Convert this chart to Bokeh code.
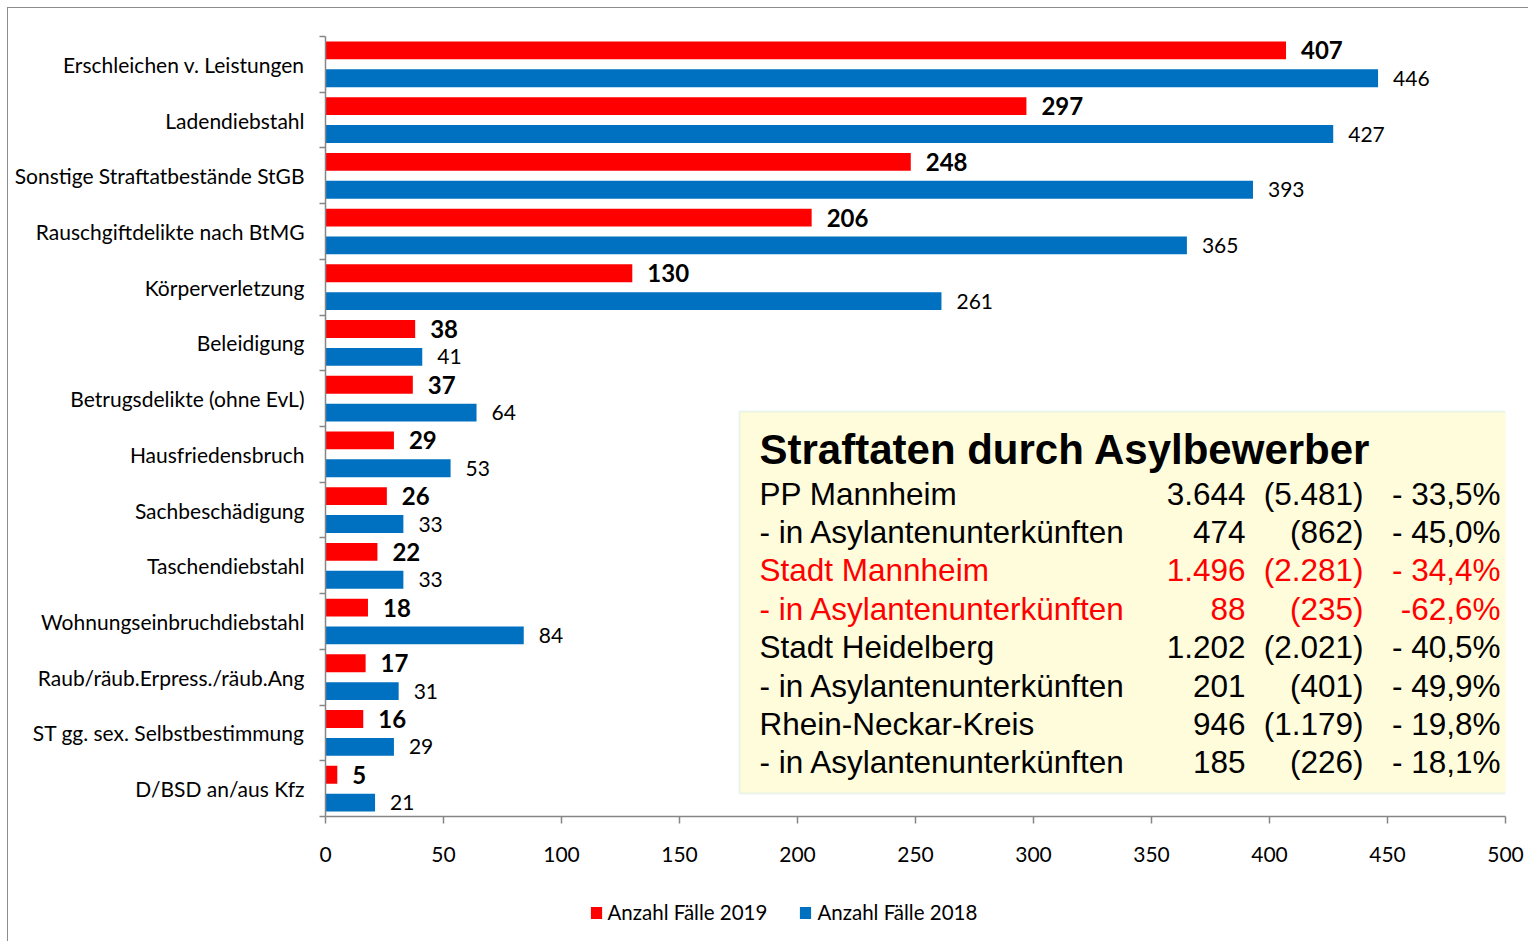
from bokeh.plotting import figure
from bokeh.layouts import column
from bokeh.models import (Range1d, FixedTicker, ColumnDataSource, Legend, LegendItem,
                          BoxAnnotation)
from bokeh.core.properties import value
from bokeh.embed import file_html
from bokeh.resources import INLINE

# ---------------- data ----------------
categories = ["Erschleichen v. Leistungen", "Ladendiebstahl", "Sonstige Straftatbestände StGB",
              "Rauschgiftdelikte nach BtMG", "Körperverletzung", "Beleidigung",
              "Betrugsdelikte (ohne EvL)", "Hausfriedensbruch", "Sachbeschädigung",
              "Taschendiebstahl", "Wohnungseinbruchdiebstahl", "Raub/räub.Erpress./räub.Ang",
              "ST gg. sex. Selbstbestimmung", "D/BSD an/aus Kfz"]
cases_2019 = [407, 297, 248, 206, 130, 38, 37, 29, 26, 22, 18, 17, 16, 5]
cases_2018 = [446, 427, 393, 365, 261, 41, 64, 53, 33, 33, 84, 31, 29, 21]
series_names = ["Anzahl Fälle 2019", "Anzahl Fälle 2018"]
x_ticks = [0, 50, 100, 150, 200, 250, 300, 350, 400, 450, 500]

box_title = "Straftaten durch Asylbewerber"
box_regions = ["PP Mannheim", "- in Asylantenunterkünften", "Stadt Mannheim",
               "- in Asylantenunterkünften", "Stadt Heidelberg", "- in Asylantenunterkünften",
               "Rhein-Neckar-Kreis", "- in Asylantenunterkünften"]
box_2019 = ["3.644", "474", "1.496", "88", "1.202", "201", "946", "185"]
box_2018 = ["(5.481)", "(862)", "(2.281)", "(235)", "(2.021)", "(401)", "(1.179)", "(226)"]
box_change = ["- 33,5%", "- 45,0%", "- 34,4%", "-62,6%", "- 40,5%", "- 49,9%", "- 19,8%", "- 18,1%"]
highlight_region = "Stadt Mannheim"

# ---------------- styles ----------------
RED = "#FF0000"
BLUE = "#0070C0"
AXIS = "#868686"
LABEL_FONT = "Lato"
ARIAL = "Liberation Sans"
COLORS = [RED, BLUE]

n = len(categories)
centers = [i + 0.5 for i in range(n)]

OFF = 8                      # page offset of the chart (margin + border)
W = 1520
H_MAIN, H_LEG = 880, 53
LEFT, RIGHT, TOP, BOTTOM = 317, 23, 28, 72
frame_w = W - LEFT - RIGHT
frame_h = H_MAIN - TOP - BOTTOM
XMAX = x_ticks[-1]


def px_x(page_x):
    # page pixel -> data x
    return (page_x - OFF - LEFT) * XMAX / frame_w


def px_y(page_y):
    # page pixel -> data y (0 at top)
    return (page_y - OFF - TOP) * n / frame_h


p = figure(width=W, height=H_MAIN, output_backend="svg", toolbar_location=None,
           x_range=Range1d(0, XMAX), y_range=Range1d(n, 0),
           min_border_left=LEFT, min_border_right=RIGHT,
           min_border_top=TOP, min_border_bottom=BOTTOM)
p.outline_line_color = None
p.xgrid.visible = False
p.ygrid.visible = False
p.background_fill_color = "white"
p.border_fill_color = "white"

src = ColumnDataSource(dict(
    cat=categories,
    y19=[c - 0.25 for c in centers],
    y18=[c + 0.25 for c in centers],
    v19=cases_2019,
    v18=cases_2018,
    t19=[str(v) for v in cases_2019],
    t18=[str(v) for v in cases_2018],
))

p.hbar(y="y19", right="v19", left=0, height=0.32, source=src,
       fill_color=RED, line_color=None)
p.hbar(y="y18", right="v18", left=0, height=0.32, source=src,
       fill_color=BLUE, line_color=None)

p.text(x="v19", y="y19", text="t19", source=src, x_offset=15,
       text_font=value(LABEL_FONT), text_font_size="24px", text_font_style="bold",
       text_align="left", text_baseline="middle", text_color="black")
p.text(x="v18", y="y18", text="t18", source=src, x_offset=15,
       text_font=value(LABEL_FONT), text_font_size="21px",
       text_align="left", text_baseline="middle", text_color="black")

# ---------------- axes ----------------
xa = p.xaxis[0]
xa.ticker = FixedTicker(ticks=x_ticks)
xa.axis_line_color = AXIS
xa.axis_line_width = 1.5
xa.major_tick_line_color = AXIS
xa.major_tick_line_width = 1.5
xa.major_tick_out = 7
xa.major_tick_in = 0
xa.minor_tick_line_color = None
xa.major_label_text_font = LABEL_FONT
xa.major_label_text_font_size = "21px"
xa.major_label_text_color = "black"
xa.major_label_standoff = 23

ya = p.yaxis[0]
ya.ticker = FixedTicker(ticks=centers, minor_ticks=list(range(n + 1)))
ya.major_label_overrides = {c: lab for c, lab in zip(centers, categories)}
ya.axis_line_color = AXIS
ya.axis_line_width = 1.5
ya.major_tick_line_color = None
ya.major_tick_out = 0
ya.major_tick_in = 0
ya.minor_tick_line_color = AXIS
ya.minor_tick_line_width = 1.5
ya.minor_tick_out = 6
ya.minor_tick_in = 0
ya.major_label_text_font = LABEL_FONT
ya.major_label_text_font_size = "21px"
ya.major_label_text_color = "black"
ya.major_label_standoff = 15

# ---------------- info box ----------------
box = BoxAnnotation(left=px_x(739), right=px_x(1526), top=px_y(411), bottom=px_y(793),
                    fill_color="#FFFCDC", fill_alpha=1.0,
                    line_color="#BEDFE4", line_width=2, level="underlay")
p.add_layout(box)

p.text(x=[px_x(759)], y=[px_y(449)], text=[box_title],
       text_font=value(ARIAL), text_font_size="42px", text_font_style="bold",
       text_align="left", text_baseline="middle", text_color="black")

colors = []
group = None
for reg in box_regions:
    if not reg.startswith("-"):
        group = reg
    colors.append(RED if group == highlight_region else "black")

row_y = [px_y(493) + i * 38.4 * n / frame_h for i in range(len(box_regions))]
bsrc = ColumnDataSource(dict(y=row_y, reg=box_regions, a=box_2019, b=box_2018,
                             c=box_change, col=colors))
for col_key, page_x, align in [("reg", 759, "left"), ("a", 1245, "right"),
                               ("b", 1363, "right"), ("c", 1500, "right")]:
    p.text(x=px_x(page_x), y="y", text=col_key, source=bsrc, text_color="col",
           text_font=value(ARIAL), text_font_size="31.5px",
           text_align=align, text_baseline="middle")

# ---------------- legend strip ----------------
# The column layout aligns this strip's frame with the main plot's frame.
# The series renderers here are hidden; only their legend swatches are shown.
q = figure(width=W, height=H_LEG, output_backend="svg", toolbar_location=None,
           x_range=Range1d(0, XMAX), y_range=Range1d(n, 0),
           min_border_left=0, min_border_right=0, min_border_top=0, min_border_bottom=0)
q.axis.visible = False
q.xgrid.visible = False
q.ygrid.visible = False
q.outline_line_color = None
q.background_fill_color = "white"
q.border_fill_color = "white"
items = []
for name, ycol, vcol, col in zip(series_names, ["y19", "y18"], ["v19", "v18"], COLORS):
    r = q.hbar(y=ycol, right=vcol, left=0, height=0.32, source=src,
               fill_color=col, line_color=None)
    r.visible = False
    items.append(LegendItem(label=name, renderers=[r]))
legend = Legend(items=items, orientation="horizontal",
                location=(590 - OFF - LEFT - 1.5, 17),
                glyph_width=14, glyph_height=15, label_height=24,
                label_standoff=5, spacing=31, padding=0, margin=0,
                label_text_font=LABEL_FONT, label_text_font_size="20.5px",
                label_text_color="black",
                inactive_fill_alpha=0,
                border_line_color=None, background_fill_alpha=0)
q.add_layout(legend, "center")

layout = column(p, q, spacing=0,
                styles={"margin-left": "7px", "margin-top": "7px",
                        "border-left": "1px solid #8c8c8c", "border-top": "1px solid #8c8c8c"})

open("out.html", "w").write(file_html(layout, INLINE))
